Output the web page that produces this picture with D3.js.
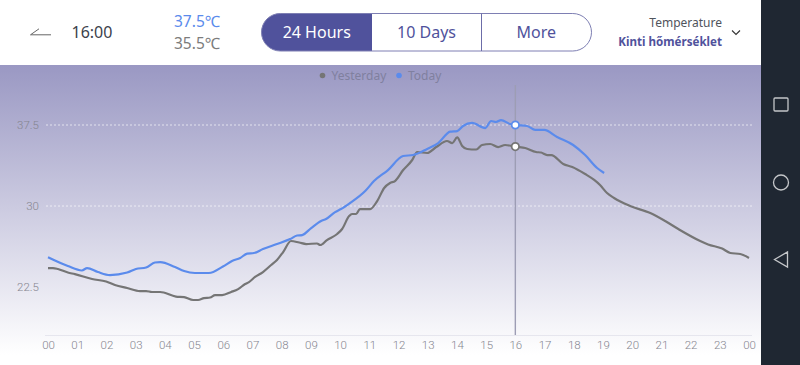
<!DOCTYPE html>
<html>
<head>
<meta charset="utf-8">
<script src="https://cdn.jsdelivr.net/npm/d3@7"></script>
<style>
  html, body { margin: 0; padding: 0; background: #fff; }
  svg { display: block; }
  text { font-family: "Noto Sans", sans-serif; }
  .axis path { display: none; }
  .axis text { font-family: Roboto, sans-serif; font-size: 11.5px; font-weight: 300; fill: #85858f; }
</style>
</head>
<body>
<div id="chart-area"></div>
<script>
// values
var hoursToday = [0,0.68,1.16,1.34,1.71,2.12,2.71,3.01,3.36,3.66,3.84,4.35,4.66,5.03,5.51,5.99,6.30,6.58,6.82,7.05,7.36,7.84,8.29,8.53,8.70,9.01,9.35,9.52,9.83,10.03,10.34,10.86,11.16,11.64,12.16,12.50,12.98,13.36,13.77,14.01,14.21,14.52,14.97,15.17,15.34,15.51,15.82,16,16.40,16.68,16.99,17.43,17.98,18.39,18.80,19.04];
var today = [25.25,24.44,24.03,24.26,23.89,23.61,23.84,24.17,24.31,24.77,24.81,24.35,23.98,23.80,23.80,24.40,24.91,25.19,25.60,25.65,26.02,26.48,26.94,27.27,27.31,27.96,28.61,28.80,29.44,29.72,30.28,31.39,32.31,33.33,34.63,34.72,35.28,35.83,36.88,36.94,37.41,37.69,37.22,37.87,37.78,37.96,37.59,37.5,37.41,37.04,37.04,36.39,35.65,34.72,33.52,33.06];

var hoursYesterday = [0,0.17,0.34,0.68,0.92,1.51,1.99,2.29,2.71,3.15,3.36,3.56,3.84,4.38,4.66,4.97,5.14,5.34,5.55,5.72,5.96,6.27,6.51,6.75,6.88,7.09,7.36,7.64,7.84,8.05,8.32,8.60,8.84,9.21,9.32,9.55,9.90,10.07,10.31,10.41,10.55,10.68,11.03,11.27,11.51,11.71,11.88,12.16,12.47,12.64,12.98,13.29,13.66,13.84,14.01,14.18,14.35,14.66,14.86,15.14,15.41,15.65,15.89,16,16.34,16.71,16.88,17.09,17.23,17.64,17.95,18.39,18.70,18.90,19.14,19.38,19.93,20.62,21.13,21.58,22.33,22.60,23.08,23.36,23.70,24];
var yesterday = [24.26,24.26,24.17,23.84,23.70,23.24,23.01,22.69,22.41,22.13,22.13,22.04,22.04,21.62,21.57,21.30,21.30,21.48,21.53,21.76,21.76,22.04,22.31,22.78,22.96,23.43,23.89,24.54,25.0,25.74,26.76,26.62,26.48,26.53,26.39,26.85,27.41,27.87,29.07,29.26,29.26,29.72,29.72,30.46,31.67,32.13,32.31,33.33,34.26,35.0,34.91,35.46,36.02,35.83,36.36,35.56,35.28,35.23,35.65,35.74,35.46,35.65,35.56,35.5,35.37,35.0,34.95,34.72,34.72,33.89,33.61,32.96,32.41,31.94,31.20,30.74,30.0,29.35,28.61,27.87,26.76,26.44,26.06,25.65,25.56,25.19];

var xTicks = ["00","01","02","03","04","05","06","07","08","09","10","11","12","13","14","15","16","17","18","19","20","21","22","23","00"];
var yTicks = [22.5, 30, 37.5];
var tabs = ["24 Hours", "10 Days", "More"];
var legendNames = ["Yesterday", "Today"];
var selectedHour = 16;

var width = 800, height = 365;
var blue = "#5b8bec", grey = "#757575", purple = "#50529c";

var svg = d3.select("#chart-area").append("svg")
    .attr("width", width)
    .attr("height", height);

var x = d3.scaleLinear().domain([0, 24]).range([48, 749]);
var y = d3.scaleLinear().domain([18.06, 37.5]).range([335, 125]);

// background gradient
var grad = svg.append("defs").append("linearGradient")
    .attr("id", "bg").attr("x1", 0).attr("y1", 0).attr("x2", 0).attr("y2", 1);
grad.append("stop").attr("offset", 0).attr("stop-color", "#9a98c3");
grad.append("stop").attr("offset", 1).attr("stop-color", "#ffffff");

svg.append("rect")
    .attr("x", 0).attr("y", 65)
    .attr("width", 761).attr("height", 290)
    .attr("fill", "url(#bg)");

// grid lines, only the two upper ones
svg.append("g").selectAll("line")
    .data(yTicks.slice(1))
  .enter().append("line")
    .attr("x1", 46).attr("x2", 752)
    .attr("y1", function(d) { return y(d); })
    .attr("y2", function(d) { return y(d); })
    .attr("stroke", "#ffffff")
    .attr("stroke-opacity", 0.65)
    .attr("stroke-dasharray", "2,2");

svg.append("line")
    .attr("x1", 45).attr("x2", 752)
    .attr("y1", 335.5).attr("y2", 335.5)
    .attr("stroke", "#e6e6ee");

// axes
var xAxis = d3.axisBottom(x)
    .tickValues(d3.range(xTicks.length))
    .tickSize(0)
    .tickPadding(6)
    .tickFormat(function(d, i) { return xTicks[i]; });

svg.append("g")
    .attr("class", "axis")
    .attr("transform", "translate(0,335)")
    .call(xAxis);

var yAxis = d3.axisLeft(y)
    .tickValues(yTicks)
    .tickSize(0)
    .tickPadding(0)
    .tickFormat(d3.format(".1f"));

svg.append("g")
    .attr("class", "axis y-axis")
    .attr("transform", "translate(39,0)")
    .call(yAxis);
svg.selectAll(".y-axis text").text(function(d) { return d === 30 ? "30" : d3.format(".1f")(d); });

// selected hour
svg.append("line")
    .attr("x1", x(selectedHour)).attr("x2", x(selectedHour))
    .attr("y1", 85).attr("y2", 335)
    .attr("stroke", "#9d9db4")
    .attr("stroke-width", 1.4);

// lines
var line = d3.line()
    .x(function(d) { return x(d[0]); })
    .y(function(d) { return y(d[1]); })
    .curve(d3.curveMonotoneX);

svg.append("path")
    .datum(d3.zip(hoursYesterday, yesterday))
    .attr("fill", "none").attr("stroke", grey).attr("stroke-width", 2.2)
    .attr("d", line);

svg.append("path")
    .datum(d3.zip(hoursToday, today))
    .attr("fill", "none").attr("stroke", blue).attr("stroke-width", 2.2)
    .attr("d", line);

// markers
svg.append("circle")
    .attr("cx", x(selectedHour)).attr("cy", y(yesterday[hoursYesterday.indexOf(selectedHour)]))
    .attr("r", 3.7).attr("fill", "#fff").attr("stroke", grey).attr("stroke-width", 1.8);
svg.append("circle")
    .attr("cx", x(selectedHour)).attr("cy", y(today[hoursToday.indexOf(selectedHour)]))
    .attr("r", 3.7).attr("fill", "#fff").attr("stroke", blue).attr("stroke-width", 1.8);

// legend
var legendX = [322.5, 399];
var legendColors = [grey, blue];
legendNames.forEach(function(name, i) {
  svg.append("circle")
      .attr("cx", legendX[i]).attr("cy", 75.5).attr("r", 2.8)
      .attr("fill", legendColors[i]);
  svg.append("text")
      .attr("x", legendX[i] + 9).attr("y", 79.5)
      .attr("font-size", 12)
      .attr("fill", "#80809f")
      .text(name);
});

// header: back arrow and time
svg.append("path")
    .attr("d", "M51,34.8H30.5L39,28.8")
    .attr("fill", "none").attr("stroke", "#666").attr("stroke-width", 1);

svg.append("text")
    .attr("x", 71.5).attr("y", 37.5)
    .attr("font-size", 16).attr("fill", "#3c424c")
    .text("16:00");

svg.append("text")
    .attr("x", 174).attr("y", 27)
    .attr("font-size", 15.5).attr("fill", blue)
    .text("37.5℃");
svg.append("text")
    .attr("x", 174).attr("y", 48.5)
    .attr("font-size", 15.5).attr("fill", "#7c7c7c")
    .text("35.5℃");

// tab buttons
var tabEdges = [261.5, 372, 481, 591.5];
svg.append("path")
    .attr("d", "M372,13.5H280.25a18.75,18.75 0 0 0 0,37.5H372Z")
    .attr("fill", purple);
svg.append("rect")
    .attr("x", tabEdges[0]).attr("y", 13.5)
    .attr("width", tabEdges[3] - tabEdges[0]).attr("height", 37.5)
    .attr("rx", 18.75)
    .attr("fill", "none").attr("stroke", "#7e7fb3").attr("stroke-width", 1);
svg.append("line")
    .attr("x1", 481.5).attr("x2", 481.5).attr("y1", 13.5).attr("y2", 51)
    .attr("stroke", "#6c6da8");

tabs.forEach(function(name, i) {
  svg.append("text")
      .attr("x", (tabEdges[i] + tabEdges[i + 1]) / 2)
      .attr("y", 38)
      .attr("text-anchor", "middle")
      .attr("font-size", 16)
      .attr("fill", i == 0 ? "#ffffff" : purple)
      .text(name);
});

// selector on the right
svg.append("text")
    .attr("x", 722).attr("y", 27)
    .attr("text-anchor", "end")
    .attr("font-size", 12).attr("fill", "#50545c")
    .text("Temperature");
svg.append("text")
    .attr("x", 722).attr("y", 46)
    .attr("text-anchor", "end")
    .attr("font-size", 11.6).attr("font-weight", 700).attr("fill", purple)
    .text("Kinti hőmérséklet");
svg.append("path")
    .attr("d", "M732,30.5L736,34.5L740,30.5")
    .attr("fill", "none").attr("stroke", "#333").attr("stroke-width", 1.1);

// android nav bar
svg.append("rect")
    .attr("x", 761).attr("y", 0)
    .attr("width", 39).attr("height", height)
    .attr("fill", "#1f2732");
svg.append("rect")
    .attr("x", 774).attr("y", 98).attr("width", 14).attr("height", 13).attr("rx", 1)
    .attr("fill", "none").attr("stroke", "#c4c6c9").attr("stroke-width", 1.3);
svg.append("circle")
    .attr("cx", 781).attr("cy", 182.5).attr("r", 7.5)
    .attr("fill", "none").attr("stroke", "#c4c6c9").attr("stroke-width", 1.3);
svg.append("path")
    .attr("d", "M774.5,259.5L787.5,252V267Z")
    .attr("fill", "none").attr("stroke", "#c4c6c9").attr("stroke-width", 1.3);
</script>
</body>
</html>
